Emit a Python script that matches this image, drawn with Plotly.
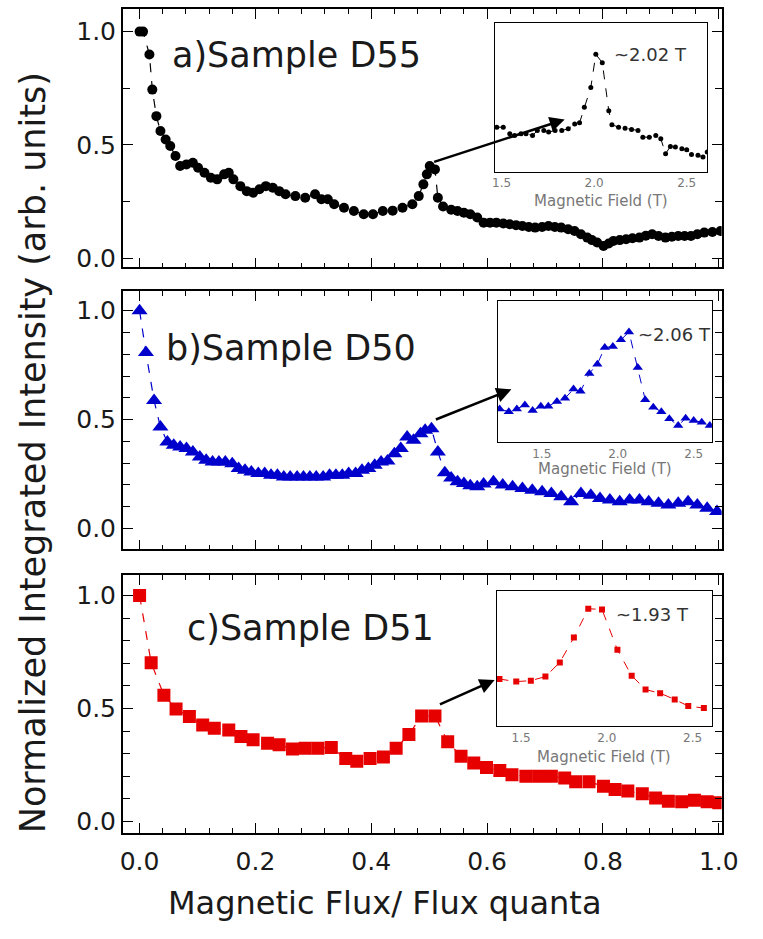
import plotly.graph_objects as go

W, H = 763, 939
def px(x): return x / W
def py(y): return 1 - y / H

# ---------------- data ----------------
# Panel a) Sample D55
a_x = [0.000, 0.006, 0.017, 0.022, 0.029, 0.036, 0.045, 0.053, 0.062, 0.070, 0.081, 0.092,
       0.101, 0.112, 0.123, 0.134, 0.146, 0.154, 0.162, 0.174, 0.185, 0.196, 0.207, 0.218,
       0.230, 0.241, 0.252, 0.269, 0.286, 0.303, 0.314, 0.325, 0.336, 0.353, 0.370, 0.387,
       0.403, 0.420, 0.437, 0.454, 0.471, 0.482, 0.490, 0.496, 0.501, 0.510, 0.515, 0.524,
       0.538, 0.549, 0.560, 0.571, 0.583, 0.594, 0.605, 0.616, 0.628, 0.639, 0.650, 0.661,
       0.672, 0.683, 0.695, 0.706, 0.717, 0.728, 0.740, 0.751, 0.762, 0.773, 0.781, 0.790,
       0.801, 0.810, 0.818, 0.829, 0.840, 0.851, 0.863, 0.874, 0.885, 0.896, 0.908, 0.919,
       0.930, 0.941, 0.952, 0.963, 0.975, 0.989, 1.003]
a_y = [1.000, 1.000, 0.899, 0.744, 0.627, 0.561, 0.524, 0.495, 0.451, 0.407, 0.414, 0.421,
       0.399, 0.377, 0.355, 0.348, 0.370, 0.377, 0.348, 0.318, 0.296, 0.289, 0.304, 0.318,
       0.311, 0.296, 0.282, 0.274, 0.267, 0.282, 0.260, 0.260, 0.238, 0.223, 0.208, 0.194,
       0.194, 0.208, 0.210, 0.223, 0.238, 0.274, 0.326, 0.370, 0.407, 0.392, 0.267, 0.228,
       0.214, 0.208, 0.201, 0.194, 0.180, 0.157, 0.157, 0.157, 0.153, 0.150, 0.146, 0.142,
       0.138, 0.135, 0.138, 0.142, 0.138, 0.135, 0.128, 0.120, 0.106, 0.091, 0.080, 0.069,
       0.054, 0.065, 0.076, 0.080, 0.084, 0.088, 0.091, 0.099, 0.106, 0.098, 0.091, 0.095,
       0.098, 0.098, 0.098, 0.106, 0.113, 0.116, 0.120]

# Panel b) Sample D50
b_x = [0.000, 0.011, 0.025, 0.036, 0.048, 0.059, 0.070, 0.081, 0.092, 0.104, 0.115, 0.126,
       0.137, 0.148, 0.160, 0.171, 0.182, 0.193, 0.205, 0.216, 0.227, 0.238, 0.249, 0.260,
       0.272, 0.283, 0.294, 0.305, 0.317, 0.328, 0.339, 0.350, 0.361, 0.373, 0.384, 0.395,
       0.406, 0.417, 0.428, 0.440, 0.451, 0.462, 0.473, 0.485, 0.493, 0.504, 0.515, 0.527,
       0.538, 0.549, 0.560, 0.571, 0.583, 0.594, 0.611, 0.627, 0.644, 0.661, 0.678, 0.695,
       0.711, 0.728, 0.745, 0.762, 0.779, 0.795, 0.812, 0.829, 0.846, 0.863, 0.879, 0.896,
       0.913, 0.930, 0.947, 0.963, 0.980, 0.997]
b_y = [1.000, 0.808, 0.588, 0.466, 0.397, 0.382, 0.374, 0.367, 0.352, 0.329, 0.314, 0.306,
       0.306, 0.306, 0.298, 0.276, 0.268, 0.260, 0.253, 0.253, 0.245, 0.245, 0.237, 0.237,
       0.237, 0.237, 0.237, 0.237, 0.237, 0.245, 0.245, 0.245, 0.253, 0.253, 0.268, 0.276,
       0.291, 0.306, 0.310, 0.344, 0.367, 0.420, 0.405, 0.435, 0.451, 0.458, 0.352, 0.256,
       0.232, 0.215, 0.207, 0.196, 0.192, 0.204, 0.215, 0.200, 0.192, 0.184, 0.176, 0.169,
       0.161, 0.146, 0.123, 0.161, 0.153, 0.138, 0.131, 0.123, 0.131, 0.131, 0.123, 0.116,
       0.108, 0.116, 0.123, 0.108, 0.093, 0.078]

# Panel c) Sample D51
c_x = [0.000, 0.020, 0.042, 0.063, 0.086, 0.109, 0.129, 0.154, 0.175, 0.196, 0.221, 0.241,
       0.264, 0.286, 0.308, 0.331, 0.356, 0.375, 0.398, 0.421, 0.443, 0.465, 0.487, 0.510,
       0.532, 0.555, 0.577, 0.599, 0.622, 0.643, 0.667, 0.689, 0.711, 0.734, 0.753, 0.776,
       0.801, 0.821, 0.843, 0.868, 0.891, 0.913, 0.936, 0.958, 0.980, 1.000]
c_y = [1.000, 0.703, 0.559, 0.498, 0.464, 0.427, 0.412, 0.405, 0.376, 0.361, 0.346, 0.339,
       0.320, 0.324, 0.324, 0.327, 0.278, 0.266, 0.278, 0.285, 0.324, 0.385, 0.467, 0.467,
       0.353, 0.288, 0.259, 0.239, 0.225, 0.207, 0.200, 0.200, 0.200, 0.192, 0.175, 0.175,
       0.156, 0.141, 0.134, 0.122, 0.104, 0.089, 0.087, 0.093, 0.087, 0.082]

# Insets: magnetic field (T) vs intensity (arb.)
ia_x = [1.474, 1.509, 1.544, 1.570, 1.605, 1.632, 1.667, 1.693, 1.728, 1.754, 1.789, 1.825,
        1.860, 1.895, 1.921, 1.947, 1.982, 2.009, 2.044, 2.079, 2.096, 2.132, 2.167, 2.202,
        2.237, 2.263, 2.298, 2.333, 2.360, 2.386, 2.412, 2.439, 2.474, 2.500, 2.526, 2.561,
        2.588, 2.611]
ia_y = [0.300, 0.300, 0.256, 0.244, 0.256, 0.256, 0.244, 0.278, 0.278, 0.267, 0.278, 0.278,
        0.289, 0.322, 0.329, 0.433, 0.567, 0.789, 0.733, 0.411, 0.316, 0.300, 0.293, 0.284,
        0.278, 0.233, 0.233, 0.244, 0.222, 0.122, 0.171, 0.167, 0.156, 0.149, 0.116, 0.111,
        0.100, 0.133]

ib_x = [1.223, 1.283, 1.336, 1.389, 1.440, 1.494, 1.543, 1.600, 1.653, 1.709, 1.755, 1.813,
        1.866, 1.915, 1.968, 2.021, 2.074, 2.132, 2.181, 2.234, 2.287, 2.340, 2.398, 2.447,
        2.500, 2.553, 2.606]
ib_y = [0.235, 0.216, 0.235, 0.264, 0.224, 0.254, 0.254, 0.289, 0.311, 0.376, 0.360, 0.487,
        0.553, 0.671, 0.678, 0.725, 0.781, 0.529, 0.301, 0.247, 0.216, 0.165, 0.118, 0.169,
        0.153, 0.141, 0.118]

ic_x = [1.374, 1.472, 1.557, 1.642, 1.726, 1.808, 1.892, 1.972, 2.062, 2.145, 2.226, 2.311,
        2.396, 2.475, 2.566]
ic_y = [0.350, 0.331, 0.338, 0.368, 0.473, 0.657, 0.870, 0.865, 0.566, 0.375, 0.272, 0.245,
        0.199, 0.150, 0.135]

x_ticks = [0.0, 0.2, 0.4, 0.6, 0.8, 1.0]
y_ticks = [0.0, 0.5, 1.0]
inset_ticks = [1.5, 2.0, 2.5]

panel_labels = ["a)Sample D55", "b)Sample D50", "c)Sample D51"]
peak_labels = ["~2.02 T", "~2.06 T", "~1.93 T"]
x_title = "Magnetic Flux/ Flux quanta"
y_title = "Normalized Integrated Intensity (arb. units)"
inset_title = "Magnetic Field (T)"

BLACK = "#000000"
BLUE = "#0000cc"
RED = "#e60000"
FONT = "DejaVu Sans"
TXT = "#1a1a1a"

fig = go.Figure()

def add(x, y, xa, ya, color, symbol, size, lw):
    fig.add_trace(go.Scatter(
        x=x, y=y, xaxis=xa, yaxis=ya, mode="lines+markers",
        line=dict(color=color, width=lw, dash="dash"),
        marker=dict(symbol=symbol, size=size, color=color, line=dict(width=0)),
        showlegend=False, hoverinfo="skip"))

add(a_x, a_y, "x", "y", BLACK, "circle", 10, 1.2)
add(b_x, b_y, "x2", "y2", BLUE, "triangle-up", 14, 1.2)
add(c_x, c_y, "x3", "y3", RED, "square", 13, 1.2)
add(ia_x, ia_y, "x4", "y4", BLACK, "circle", 5, 1)
add(ib_x, ib_y, "x5", "y5", BLUE, "triangle-up", 9, 1)
add(ic_x, ic_y, "x6", "y6", RED, "square", 6, 1)

xdom = [px(123), px(738)]
main_y = [  # (top px, bottom px, range, minor dtick)
    (9, 269, [-0.04, 1.10], 0.25),
    (293, 553, [-0.096, 1.09], 0.1),
    (579, 838, [-0.05, 1.09], 0.1),
]
insets = [  # (left, right, top, bottom, xrange)
    (505, 723, 23, 173, [1.463, 2.61]),
    (508, 728, 303, 445, [1.21, 2.62]),
    (507, 728, 595, 731, [1.358, 2.613]),
]

layout = dict(
    width=W, height=H, margin=dict(l=0, r=0, t=0, b=0),
    paper_bgcolor="white", plot_bgcolor="white",
    font=dict(family=FONT, color=TXT),
)

for i, (top, bot, yr, mdt) in enumerate(main_y):
    n = "" if i == 0 else str(i + 1)
    layout["xaxis" + n] = dict(
        domain=xdom, anchor="y" + n, range=[-0.029, 1.005],
        tickvals=x_ticks, ticktext=["%.1f" % v for v in x_ticks],
        showticklabels=(i == 2), ticks="inside", ticklen=10, tickwidth=1.3, tickcolor="black",
        minor=dict(dtick=0.04, tick0=0, ticks="inside", ticklen=5, tickcolor="black", tickwidth=1),
        showline=True, linecolor="black", linewidth=1.5, mirror="ticks",
        showgrid=False, zeroline=False,
        tickfont=dict(family=FONT, size=25, color=TXT), ticklabelstandoff=6)
    layout["yaxis" + n] = dict(
        domain=[py(bot), py(top)], anchor="x" + n, range=yr,
        tickvals=y_ticks, ticktext=["%.1f" % v for v in y_ticks],
        ticks="inside", ticklen=10, tickwidth=1.3, tickcolor="black",
        minor=dict(dtick=mdt, tick0=0, ticks="inside", ticklen=7, tickcolor="black", tickwidth=1),
        showline=True, linecolor="black", linewidth=1.5, mirror="ticks",
        showgrid=False, zeroline=False,
        tickfont=dict(family=FONT, size=25, color=TXT))

for j, (l, r, t, b, xr) in enumerate(insets):
    n = str(j + 4)
    layout["xaxis" + n] = dict(
        domain=[px(l), px(r)], anchor="y" + n, range=xr,
        tickvals=inset_ticks, ticktext=["%.1f" % v for v in inset_ticks],
        ticks="", showline=True, linecolor="black", linewidth=1.2, mirror=True,
        showgrid=False, zeroline=False,
        tickfont=dict(family=FONT, size=12, color="#777777"))
    layout["yaxis" + n] = dict(
        domain=[py(b), py(t)], anchor="x" + n, range=[0, 1],
        showticklabels=False, ticks="", showline=True, linecolor="black",
        linewidth=1.2, mirror=True, showgrid=False, zeroline=False)

fig.update_layout(**layout)

ann = []
# panel labels
for lab, (xl, yc) in zip(panel_labels, [(172, 55), (165, 350), (187, 632)]):
    ann.append(dict(text=lab, xref="paper", yref="paper", x=px(xl), y=py(yc),
                    xanchor="left", yanchor="middle", showarrow=False,
                    font=dict(family=FONT, size=35, color=TXT)))
# peak labels in insets
for lab, (xl, yc) in zip(peak_labels, [(625, 55), (650, 337), (627, 618)]):
    ann.append(dict(text=lab, xref="paper", yref="paper", x=px(xl), y=py(yc),
                    xanchor="left", yanchor="middle", showarrow=False,
                    font=dict(family=FONT, size=18, color="#333333")))
# inset axis titles
for (l, r, t, b, xr), yc in zip(insets, [202, 472, 762]):
    ann.append(dict(text=inset_title, xref="paper", yref="paper", x=px((l + r) / 2), y=py(yc),
                    xanchor="center", yanchor="middle", showarrow=False,
                    font=dict(family=FONT, size=15, color="#777777")))
# arrows from peak to inset (data coordinates of each panel)
arrows = [("x", "y", 0.734, 0.612, 0.506, 0.423),
          ("x2", "y2", 0.642, 0.639, 0.509, 0.498),
          ("x3", "y3", 0.613, 0.626, 0.516, 0.515)]
for xa, ya, hx, hy, tx, ty in arrows:
    ann.append(dict(text="", xref=xa, yref=ya, axref=xa, ayref=ya,
                    x=hx, y=hy, ax=tx, ay=ty, showarrow=True,
                    arrowhead=2, arrowsize=1.2, arrowwidth=2.5, arrowcolor="black"))
# axis titles
ann.append(dict(text=x_title, xref="paper", yref="paper", x=px(392), y=py(909),
                xanchor="center", yanchor="middle", showarrow=False,
                font=dict(family=FONT, size=32, color=TXT)))
ann.append(dict(text=y_title, xref="paper", yref="paper", x=px(31), y=py(456),
                xanchor="center", yanchor="middle", showarrow=False, textangle=-90,
                font=dict(family=FONT, size=35, color=TXT)))
fig.update_layout(annotations=ann)

fig.write_html("out.html")
